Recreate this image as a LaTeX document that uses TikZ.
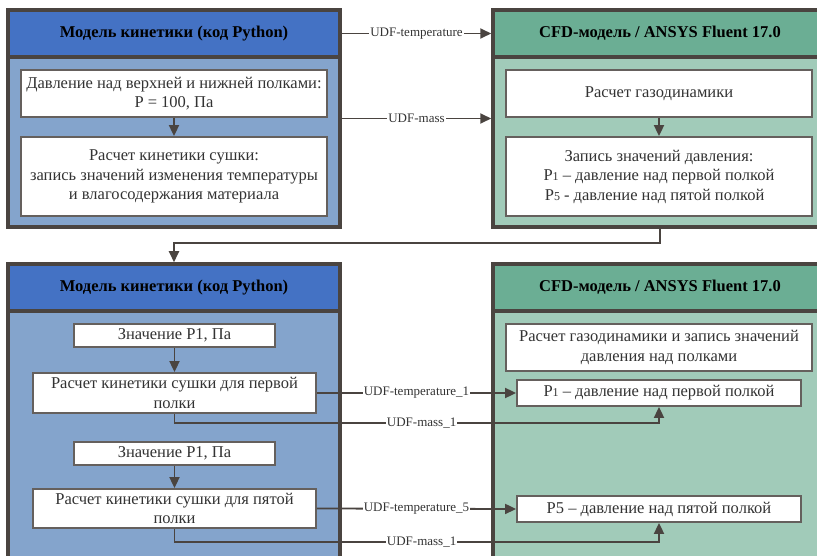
\documentclass[tikz,border=0pt]{standalone}
\usepackage{fontspec}
\setmainfont{Liberation Serif}
\usetikzlibrary{arrows.meta}
\definecolor{hblue}{HTML}{4472C4}
\definecolor{bblue}{HTML}{84A4CC}
\definecolor{hgreen}{HTML}{6BAE94}
\definecolor{bgreen}{HTML}{A1CBB9}
\definecolor{frame}{HTML}{4A4440}
\definecolor{ink}{HTML}{333333}
\tikzset{
  panel/.style={draw=frame, line width=3.5pt, inner sep=0pt},
  header/.style={draw=frame, line width=3.5pt, inner sep=0pt, font=\fontsize{16.5}{18}\selectfont\bfseries, text=black},
  box/.style={draw=frame!85, fill=white, line width=1.8pt, inner sep=0pt, align=center, text=ink, font=\fontsize{16.5}{19.5}\selectfont},
  conn/.style={draw=frame, line width=1.8pt},
  arr/.style={conn, -{Triangle[length=11pt,width=10pt]}},
  lbl/.style={fill=white, inner sep=1pt, text=ink, font=\fontsize{13}{14}\selectfont}
}
\newcommand{\sm}[1]{{\fontsize{12}{12}\selectfont #1}}
\begin{document}
\begin{tikzpicture}[x=1pt,y=-1pt]
\clip (0,0) rectangle (817,556);
\fill[white] (0,0) rectangle (817,556);
% top-left panel
\node[panel, fill=bblue, minimum width=332pt, minimum height=217pt] (p1) at (174,118.5) {};
\node[header, fill=hblue, minimum width=332pt, minimum height=47pt] (h1) at (174,33.5) {Модель кинетики (код Python)};
\node[box, minimum width=306pt, minimum height=47pt] (b1) at (174,93.5) {Давление над верхней и нижней полками:\\P = 100, Па};
\node[box, minimum width=306pt, minimum height=79pt] (b2) at (174,176.5) {Расчет кинетики сушки:\\запись значений изменения температуры\\и влагосодержания материала};
\draw[arr] (b1) -- (b2);
% top-right panel
\node[panel, fill=bgreen, minimum width=334pt, minimum height=217pt] (p2) at (660,118.5) {};
\node[header, fill=hgreen, minimum width=334pt, minimum height=47pt] (h2) at (660,33.5) {CFD-модель / ANSYS Fluent 17.0};
\node[box, minimum width=306pt, minimum height=47pt] (r1) at (659,93.5) {Расчет газодинамики};
\node[box, minimum width=306pt, minimum height=79pt] (r2) at (659,176.5) {Запись значений давления:\\P\sm{1} – давление над первой полкой\\P\sm{5} - давление над пятой полкой\phantom{й}};
\draw[arr] (r1) -- (r2);
% top connectors
\draw[arr] (h1.east) -- node[lbl]{UDF-temperature} (h2.west);
\draw[arr] (p1.east) -- node[lbl]{UDF-mass} (p2.west);
% feedback
\coordinate (f1) at (660,243);
\coordinate (f2) at (174,243);
% bottom-left panel
\node[panel, fill=bblue, minimum width=332pt, minimum height=336pt] (p3) at (174,432) {};
\node[header, fill=hblue, minimum width=332pt, minimum height=47pt] (h3) at (174,287.5) {Модель кинетики (код Python)};
\node[box, minimum width=201pt, minimum height=23pt] (v1) at (174.5,335.5) {Значение P1, Па};
\node[box, minimum width=283pt, minimum height=40pt, font=\fontsize{16.5}{19.5}\selectfont] (c1) at (174.5,393) {Расчет кинетики сушки для первой\\полки};
\node[box, minimum width=201pt, minimum height=23pt] (v2) at (174.5,453.5) {Значение P1, Па};
\node[box, minimum width=283pt, minimum height=39pt, font=\fontsize{16.5}{19.5}\selectfont] (c2) at (174.5,508.5) {Расчет кинетики сушки для пятой\\полки};
\draw[arr] (v1) -- (c1);
\draw[arr] (v2) -- (c2);
% bottom-right panel
\node[panel, fill=bgreen, minimum width=334pt, minimum height=336pt] (p4) at (660,432) {};
\node[header, fill=hgreen, minimum width=334pt, minimum height=47pt] (h4) at (660,287.5) {CFD-модель / ANSYS Fluent 17.0};
\node[box, minimum width=306pt, minimum height=47pt] (g1) at (659,347.5) {Расчет газодинамики и запись значений\\давления над полками};
\node[box, minimum width=284pt, minimum height=26pt] (q1) at (659,393) {P\sm{1} – давление над первой полкой};
\node[box, minimum width=284pt, minimum height=26pt] (q2) at (659,509) {P5 – давление над пятой полкой};
\draw[arr] (p2.south) -- (f1) -- (f2) -- (h3.north);
% bottom connectors
\draw[arr] (c1.east) -- node[lbl]{UDF-temperature\_1} (q1.west);
\coordinate (m1a) at (174.5,423);
\coordinate (m1b) at (659,423);
\draw[arr] (c1.south) -- (m1a) -- node[lbl, pos=0.51]{UDF-mass\_1} (m1b) -- (q1.south);
\draw[arr] (c2.east) -- node[lbl]{UDF-temperature\_5} (q2.west);
\coordinate (m2a) at (174.5,542);
\coordinate (m2b) at (659,542);
\draw[arr] (c2.south) -- (m2a) -- node[lbl, pos=0.51]{UDF-mass\_1} (m2b) -- (q2.south);
\end{tikzpicture}
\end{document}
